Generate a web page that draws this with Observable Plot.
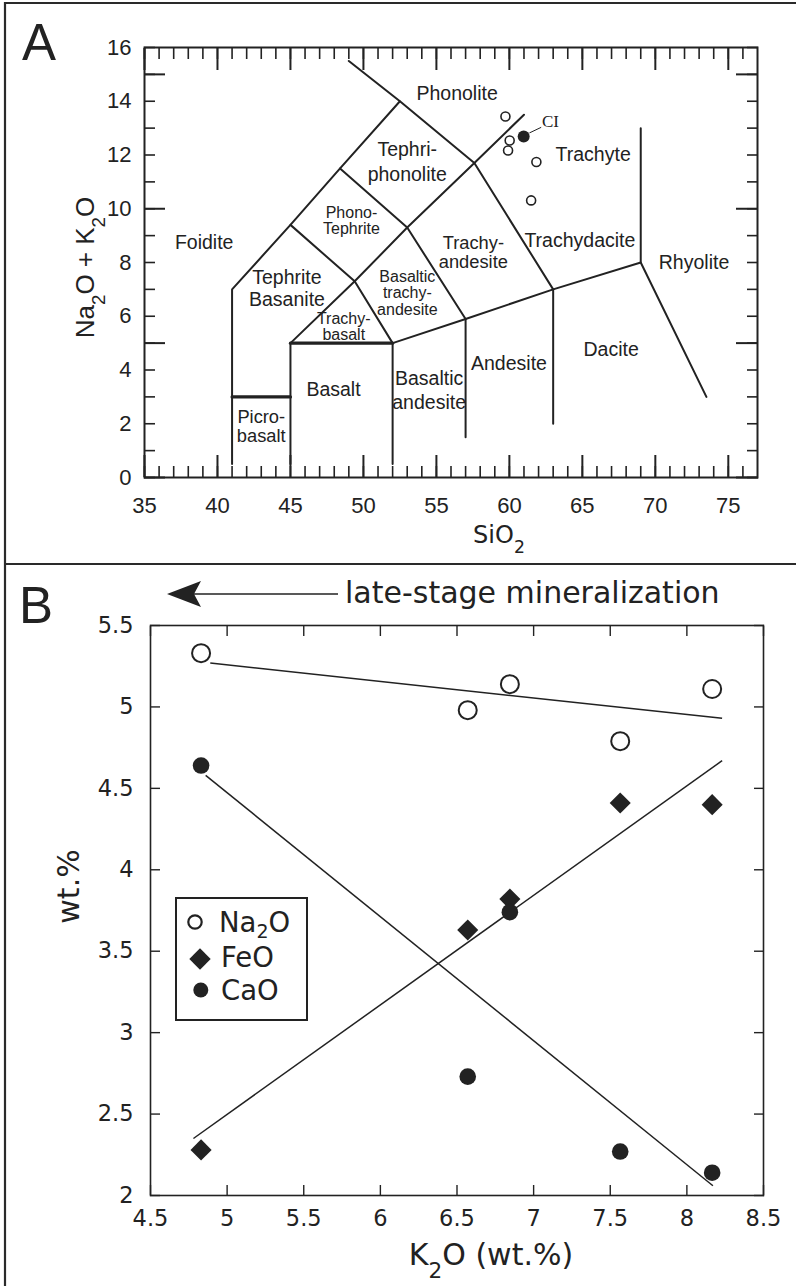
<!DOCTYPE html>
<html><head><meta charset="utf-8">
<script src="https://cdn.jsdelivr.net/npm/d3@7"></script>
<script src="https://cdn.jsdelivr.net/npm/@observablehq/plot@0.6"></script>
<style>
 body{margin:0;background:#fff}
 #wrap{position:relative;width:796px;height:1286px;overflow:hidden;background:#fff}
 #panelA,#panelB{position:absolute;left:0}
 #panelA{top:0} #panelB{top:564px}
 #overlay{position:absolute;left:0;top:0}
</style></head><body>
<div id="wrap"><div id="panelA"></div><div id="panelB"></div>
<svg id="overlay" width="796" height="1286" xmlns="http://www.w3.org/2000/svg">
 <g stroke="#2a2a2a" stroke-width="2.2">
  <line x1="4" y1="3" x2="796" y2="3"/>
  <line x1="5" y1="2" x2="5" y2="1286"/>
  <line x1="4" y1="564" x2="796" y2="564"/>
 </g>
 <text x="22" y="60" font-size="51" font-family="Liberation Sans, Arial, sans-serif" fill="#222">A</text>
 <text x="19" y="623" font-size="51" font-family="Liberation Sans, Arial, sans-serif" fill="#222">B</text>
 <line x1="190" y1="594" x2="338" y2="594" stroke="#222" stroke-width="1.6"/>
 <path d="M167,594 L201,581 L194,594 L201,607 Z" fill="#222"/>
 <text x="345" y="603" font-size="30" font-family="DejaVu Sans, sans-serif" fill="#222">late-stage mineralization</text>
 <g id="legend" font-family="DejaVu Sans, sans-serif" font-size="27.5" fill="#222">
  <rect x="176" y="898" width="131" height="122" fill="#fff" stroke="#222" stroke-width="2"/>
  <circle cx="195" cy="922" r="6.7" fill="none" stroke="#222" stroke-width="2.2"/>
  <path d="M200,948.3 L210.7,959 L200,969.7 L189.3,959 Z" fill="#222"/>
  <circle cx="200.8" cy="990" r="7.5" fill="#222"/>
  <text x="219" y="932">Na<tspan font-size="19" dy="6">2</tspan><tspan dy="-6">O</tspan></text>
  <text x="221" y="967">FeO</text>
  <text x="221" y="1000">CaO</text>
 </g>
</svg></div>
<script>
// ---------- Panel A data (TAS diagram) ----------
const sio2TickLabels = [35, 40, 45, 50, 55, 60, 65, 70, 75];
const alkTickLabels = [0, 2, 4, 6, 8, 10, 12, 14, 16];
const sio2MinorTicks = [35,36,37,38,39,40,41,42,43,44,45,46,47,48,49,50,51,52,53,54,55,56,57,58,59,60,61,62,63,64,65,66,67,68,69,70,71,72,73,74,75,76];
const sio2MajorTicks = [35, 40, 45, 50, 55, 60, 65, 70, 75];
const alkMinorTicks = [0,1,2,3,4,5,6,7,8,9,10,11,12,13,14,15,16];
const alkMajorTicks = [0, 5, 10, 15];

const tasBoundaries = [
  [[41,0.5],[41,7],[45,9.4],[48.4,11.5],[52.5,14],[49,15.5]],
  [[52.5,14],[57.6,11.7],[63,7]],
  [[45,9.4],[49.4,7.3],[52,5]],
  [[48.4,11.5],[53,9.3],[57,5.9]],
  [[49.4,7.3],[53,9.3],[57.6,11.7],[61,13.5]],
  [[45,5],[49.4,7.3]],
  [[45,0.5],[45,5]],
  [[52,0.5],[52,5],[57,5.9],[63,7],[69,8]],
  [[57,1.5],[57,5.9]],
  [[63,2],[63,7]],
  [[69,13],[69,8],[73.5,3]]
];
const tasThickBoundaries = [
  [[41,3],[45,3]],
  [[45,5],[52,5]]
];

// field names (single line)
const fieldLabels = [
  {name:"Phonolite", x:56.42, y:14.28},
  {name:"Foidite", x:39.09, y:8.73},
  {name:"Trachydacite", x:64.83, y:8.82},
  {name:"Trachyte", x:65.74, y:12.02},
  {name:"Rhyolite", x:72.65, y:7.99},
  {name:"Dacite", x:66.97, y:4.76},
  {name:"Andesite", x:59.97, y:4.24},
  {name:"Basalt", x:47.95, y:3.27}
];
// field names on two lines, wide spacing
const fieldLabelsLoose = [
  {name:"Tephri-\nphonolite", x:53.0, y:11.78},
  {name:"Basaltic\nandesite", x:54.5, y:3.28}
];
// field names on two lines, medium spacing
const fieldLabelsMedium = [
  {name:"Tephrite\nBasanite", x:44.76, y:7.07}
];
// field names on two lines, tight spacing
const fieldLabelsTight = [
  {name:"Trachy-\nandesite", x:57.53, y:8.38},
  {name:"Picro-\nbasalt", x:43.0, y:1.91}
];
// small field names, tight spacing
const smallFieldLabels = [
  {name:"Phono-\nTephrite", x:49.18, y:9.56},
  {name:"Trachy-\nbasalt", x:48.65, y:5.62},
  {name:"Basaltic\ntrachy-\nandesite", x:53.01, y:6.86}
];

const sampleSiO2 = [59.73, 60.02, 59.91, 61.85, 61.49];
const sampleAlk = [13.43, 12.54, 12.17, 11.74, 10.31];
const ciSiO2 = [60.98];
const ciAlk = [12.69];
const ciLabel = [{name:"CI", x:62.81, y:13.23}];
const ciLeader = [{x1:61.37, y1:12.82, x2:62.18, y2:13.03}];

// ---------- Panel B data ----------
const k2oTicks = [4.5, 5, 5.5, 6, 6.5, 7, 7.5, 8, 8.5];
const wtTicks = [2, 2.5, 3, 3.5, 4, 4.5, 5, 5.5];
const k2o = [4.83, 6.57, 6.845, 7.565, 8.165];
const na2o = [5.33, 4.98, 5.14, 4.79, 5.11];
const feo = [2.28, 3.63, 3.82, 4.41, 4.40];
const cao = [4.64, 2.73, 3.74, 2.27, 2.14];
const trendSeries = ["Na2O", "FeO", "CaO"];
const trendX0 = [4.89, 4.78, 4.86];
const trendY0 = [5.27, 2.35, 4.58];
const trendX1 = [8.23, 8.23, 8.17];
const trendY1 = [4.93, 4.67, 2.06];

// ---------- build tables ----------
const toRows = (polys) => polys.flatMap((p, i) => p.map(([x, y]) => ({id: i, x, y})));
const boundaryRows = toRows(tasBoundaries);
const thickRows = toRows(tasThickBoundaries);
const samples = sampleSiO2.map((x, i) => ({x, y: sampleAlk[i]}));
const ci = ciSiO2.map((x, i) => ({x, y: ciAlk[i]}));

const ink = "#222";
const fontA = "Liberation Sans, Arial, Helvetica, sans-serif";
const fontB = "DejaVu Sans, Verdana, sans-serif";

// render "₂" as a real subscript tspan
function subscriptify(svg) {
  const ns = "http://www.w3.org/2000/svg";
  svg.querySelectorAll("text").forEach((t) => {
    if (t.children.length) return;
    const s = t.textContent;
    if (!s.includes("₂")) return;
    t.textContent = "";
    const parts = s.split("₂");
    parts.forEach((p, i) => {
      if (p) t.appendChild(document.createTextNode(p));
      if (i < parts.length - 1) {
        const ts = document.createElementNS(ns, "tspan");
        ts.setAttribute("baseline-shift", "sub");
        ts.setAttribute("font-size", "72%");
        ts.textContent = "2";
        t.appendChild(ts);
      }
    });
  });
}

const plotA = Plot.plot({
  width: 796, height: 564,
  marginLeft: 144, marginRight: 39, marginTop: 47, marginBottom: 87,
  x: {domain: [35, 77]},
  y: {domain: [0, 16]},
  style: {fontFamily: fontA, fontSize: "21px", color: ink, background: "transparent", overflow: "visible"},
  marks: [
    Plot.line(boundaryRows, {x: "x", y: "y", z: "id", stroke: ink, strokeWidth: 2, strokeLinejoin: "miter"}),
    Plot.line(thickRows, {x: "x", y: "y", z: "id", stroke: ink, strokeWidth: 3.2}),
    Plot.frame({stroke: ink, strokeWidth: 2}),
    Plot.axisX(sio2MinorTicks, {anchor: "bottom", tickSize: -11, fill: "none", stroke: ink, strokeWidth: 1.6}),
    Plot.axisX(sio2MajorTicks, {anchor: "bottom", tickSize: -22, fill: "none", stroke: ink, strokeWidth: 2}),
    Plot.axisX(sio2MinorTicks, {anchor: "top", tickSize: -11, fill: "none", stroke: ink, strokeWidth: 1.6}),
    Plot.axisX(sio2MajorTicks, {anchor: "top", tickSize: -22, fill: "none", stroke: ink, strokeWidth: 2}),
    Plot.axisY(alkMinorTicks, {anchor: "left", tickSize: -11, fill: "none", stroke: ink, strokeWidth: 1.6}),
    Plot.axisY(alkMajorTicks, {anchor: "left", tickSize: -21, fill: "none", stroke: ink, strokeWidth: 2}),
    Plot.axisY(alkMinorTicks, {anchor: "right", tickSize: -11, fill: "none", stroke: ink, strokeWidth: 1.6}),
    Plot.axisY(alkMajorTicks, {anchor: "right", tickSize: -22, fill: "none", stroke: ink, strokeWidth: 2}),
    Plot.axisX(sio2TickLabels, {anchor: "bottom", tickSize: 0, tickPadding: 20, fontSize: 22, label: null, fill: ink}),
    Plot.axisY(alkTickLabels, {anchor: "left", tickSize: 0, tickPadding: 13, fontSize: 22, label: null, fill: ink}),
    Plot.text(["Na₂O + K₂O"], {frameAnchor: "left", textAnchor: "middle", lineAnchor: "middle", rotate: -90, dx: -59, dy: 5, fontSize: 26, fill: ink}),
    Plot.text(["SiO₂"], {frameAnchor: "bottom", textAnchor: "middle", lineAnchor: "middle", dx: 48, dy: 58, fontSize: 24, fontFamily: fontB, fill: ink}),
    Plot.text(fieldLabels, {x: "x", y: "y", text: "name", fontSize: 19.5, fill: ink}),
    Plot.text(fieldLabelsLoose, {x: "x", y: "y", text: "name", fontSize: 19.5, lineHeight: 1.26, fill: ink}),
    Plot.text(fieldLabelsMedium, {x: "x", y: "y", text: "name", fontSize: 19.5, lineHeight: 1.13, fill: ink}),
    Plot.text(fieldLabelsTight, {x: "x", y: "y", text: "name", fontSize: 18.3, lineHeight: 1.03, fill: ink}),
    Plot.text(smallFieldLabels, {x: "x", y: "y", text: "name", fontSize: 16, lineHeight: 1.03, fill: ink}),
    Plot.link(ciLeader, {x1: "x1", y1: "y1", x2: "x2", y2: "y2", stroke: ink, strokeWidth: 1}),
    Plot.text(ciLabel, {x: "x", y: "y", text: "name", fontSize: 17, fontFamily: "Liberation Serif, Times New Roman, serif", fill: ink}),
    Plot.dot(samples, {x: "x", y: "y", r: 4.5, stroke: ink, strokeWidth: 1.6, fill: "#fff"}),
    Plot.dot(ci, {x: "x", y: "y", r: 6, fill: ink, stroke: "none"})
  ]
});
subscriptify(plotA);
document.getElementById("panelA").appendChild(plotA);

const naRows = k2o.map((x, i) => ({x, y: na2o[i]}));
const feRows = k2o.map((x, i) => ({x, y: feo[i]}));
const caRows = k2o.map((x, i) => ({x, y: cao[i]}));
const trends = trendSeries.map((s, i) => ({s, x1: trendX0[i], y1: trendY0[i], x2: trendX1[i], y2: trendY1[i]}));
const fmt = (d) => `${d}`;

const plotB = Plot.plot({
  width: 796, height: 722,
  marginLeft: 150, marginRight: 33, marginTop: 61, marginBottom: 91,
  x: {domain: [4.5, 8.5]},
  y: {domain: [2, 5.5]},
  style: {fontFamily: fontB, fontSize: "22px", color: ink, background: "transparent", overflow: "visible"},
  marks: [
    Plot.frame({stroke: ink, strokeWidth: 1.6}),
    Plot.axisX(k2oTicks, {anchor: "bottom", tickSize: -10, fill: "none", stroke: ink, strokeWidth: 1.4}),
    Plot.axisX(k2oTicks, {anchor: "top", tickSize: -10, fill: "none", stroke: ink, strokeWidth: 1.4}),
    Plot.axisY(wtTicks, {anchor: "left", tickSize: -10, fill: "none", stroke: ink, strokeWidth: 1.4}),
    Plot.axisY(wtTicks, {anchor: "right", tickSize: -10, fill: "none", stroke: ink, strokeWidth: 1.4}),
    Plot.axisX(k2oTicks, {anchor: "bottom", tickSize: 0, tickPadding: 15, fontSize: 22.5, tickFormat: fmt, label: null, fill: ink}),
    Plot.axisY(wtTicks, {anchor: "left", tickSize: 0, tickPadding: 17, fontSize: 22.5, tickFormat: fmt, label: null, fill: ink}),
    Plot.text(["K₂O (wt.%)"], {frameAnchor: "bottom", textAnchor: "middle", lineAnchor: "middle", dx: 34, dy: 60, fontSize: 30, fill: ink}),
    Plot.text(["wt.%"], {frameAnchor: "left", textAnchor: "middle", lineAnchor: "middle", rotate: -90, dx: -81, dy: -24, fontSize: 30, fill: ink}),
    Plot.link(trends, {x1: "x1", y1: "y1", x2: "x2", y2: "y2", stroke: ink, strokeWidth: 1.5}),
    Plot.dot(naRows, {x: "x", y: "y", r: 9, stroke: ink, strokeWidth: 2, fill: "#fff"}),
    Plot.dot(feRows, {x: "x", y: "y", r: 9.5, symbol: "diamond2", fill: ink, stroke: "none"}),
    Plot.dot(caRows, {x: "x", y: "y", r: 8.3, fill: ink, stroke: "none"})
  ]
});
subscriptify(plotB);
document.getElementById("panelB").appendChild(plotB);
</script>
</body></html>
